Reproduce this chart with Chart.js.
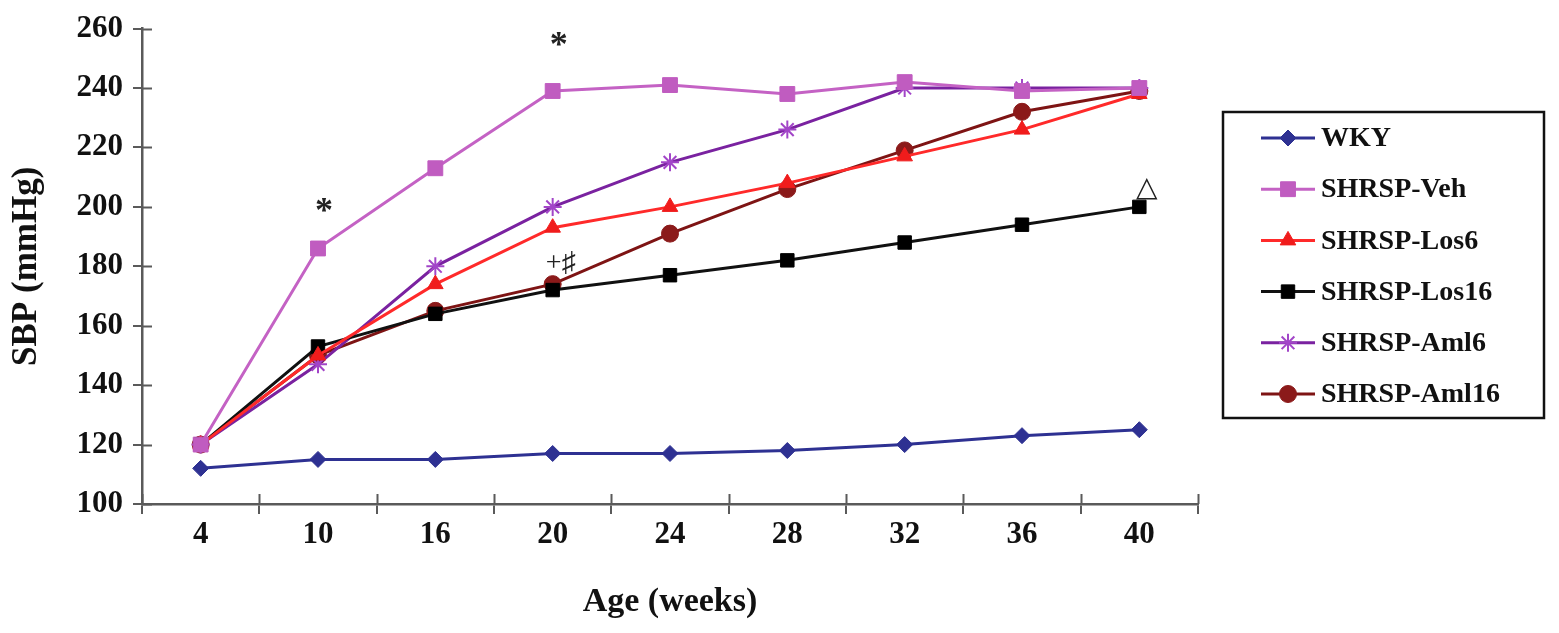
<!DOCTYPE html>
<html>
<head>
<meta charset="utf-8">
<script src="https://cdn.jsdelivr.net/npm/chart.js@4/dist/chart.umd.min.js"></script>
<style>
  html, body { margin: 0; padding: 0; background: #fff; }
  #wrap { width: 1559px; height: 633px; position: relative; }
</style>
</head>
<body>
<div id="wrap"><canvas id="chart"></canvas></div>
<script>
// ─── Data ────────────────────────────────────────────────────────────────────

const ages = ['4', '10', '16', '20', '24', '28', '32', '36', '40'];

const wky     = [112, 115, 115, 117, 117, 118, 120, 123, 125];
const veh     = [120, 186, 213, 239, 241, 238, 242, 239, 240];
const los6    = [120, 150, 174, 193, 200, 208, 217, 226, 238];
const los16   = [120, 153, 164, 172, 177, 182, 188, 194, 200];
const aml6    = [120, 147, 180, 200, 215, 226, 240, 240, 240];
const aml16   = [120, 150, 165, 174, 191, 206, 219, 232, 239];

const yTicks  = [100, 120, 140, 160, 180, 200, 220, 240, 260];

// significance marks: text, category, value
const markText  = ['*', '*', '+\u266F', '\u25B3'];
const markAge   = ['10', '20', '20', '40'];
const markValue = [198, 254, 181, 206];

const FONT = '"Liberation Serif", "Times New Roman", serif';
const AXIS = '#5a5a5a';

// ─── Plugins ─────────────────────────────────────────────────────────────────

// inner half of the crossing tick marks
const innerTicks = {
  id: 'innerTicks',
  afterDraw(chart) {
    const { ctx, scales: { x, y } } = chart;
    ctx.save();
    ctx.strokeStyle = AXIS;
    ctx.lineWidth = 2;
    ctx.beginPath();
    yTicks.forEach(v => {
      const py = Math.round(y.getPixelForValue(v)) + 0.5;
      ctx.moveTo(x.left, py);
      ctx.lineTo(x.left + 10, py);
    });
    const half = (x.getPixelForValue(1) - x.getPixelForValue(0)) / 2;
    for (let i = 0; i <= ages.length; i++) {
      const px = Math.round(x.getPixelForValue(i) - half) + 0.5;
      ctx.moveTo(px, y.bottom);
      ctx.lineTo(px, y.bottom - 10);
    }
    ctx.stroke();
    ctx.restore();
  }
};

const marks = {
  id: 'marks',
  afterDatasetsDraw(chart) {
    const { ctx, scales: { x, y } } = chart;
    ctx.save();
    ctx.fillStyle = '#222';
    ctx.textAlign = 'center';
    ctx.textBaseline = 'middle';
    markText.forEach((t, i) => {
      const px = x.getPixelForValue(ages.indexOf(markAge[i]));
      const py = y.getPixelForValue(markValue[i]);
      ctx.font = (t === '*' ? 'bold 36px ' : '28px ') + FONT;
      ctx.fillText(t, px + (t === '*' ? 6 : 8), py);
    });
    ctx.restore();
  }
};

// boxed legend with line + marker samples
const boxLegend = {
  id: 'boxLegend',
  afterDraw(chart) {
    const { ctx } = chart;
    const left = 1223, top = 112, right = 1544, bottom = 418;
    ctx.save();
    ctx.strokeStyle = '#111';
    ctx.lineWidth = 2.5;
    ctx.strokeRect(left, top, right - left, bottom - top);
    ctx.font = 'bold 28px ' + FONT;
    ctx.textBaseline = 'middle';
    chart.data.datasets.forEach((ds, i) => {
      const cy = 138 + i * 51.2;
      ctx.strokeStyle = ds.borderColor;
      ctx.lineWidth = 3;
      ctx.beginPath();
      ctx.moveTo(1261, cy);
      ctx.lineTo(1315, cy);
      ctx.stroke();
      ctx.fillStyle = ds.pointBackgroundColor;
      ctx.strokeStyle = ds.pointBorderColor;
      ctx.lineWidth = ds.pointBorderWidth || 1;
      Chart.helpers.drawPoint(ctx, {
        pointStyle: ds.pointStyle,
        radius: ds.pointRadius,
        borderWidth: ds.pointBorderWidth || 1,
        rotation: 0
      }, 1288, cy);
      ctx.fillStyle = '#111';
      ctx.fillText(ds.label, 1321, cy + 1);
    });
    ctx.restore();
  }
};

// ─── Chart ───────────────────────────────────────────────────────────────────

function series(label, data, line, marker, style, radius, bw) {
  return {
    label, data,
    borderColor: line,
    backgroundColor: marker,
    pointBackgroundColor: marker,
    pointBorderColor: marker,
    pointBorderWidth: bw || 1,
    pointStyle: style,
    pointRadius: radius,
    pointHoverRadius: radius,
    borderWidth: 3,
    tension: 0,
    fill: false,
  };
}

new Chart(document.getElementById('chart'), {
  type: 'line',
  data: {
    labels: ages,
    datasets: [
      series('WKY',         wky,   '#2e3192', '#2e3192', 'rectRot', 8),
      series('SHRSP-Veh',   veh,   '#c462c4', '#c05cc0', 'rect', 10.5),
      series('SHRSP-Los6',  los6,  '#ff2a2a', '#f01c1c', 'triangle', 9),
      series('SHRSP-Los16', los16, '#111111', '#000000', 'rect', 9.5),
      series('SHRSP-Aml6',  aml6,  '#7a22a0', '#a245c8', 'star', 9, 2),
      series('SHRSP-Aml16', aml16, '#7e1414', '#8b1a1a', 'circle', 8.5),
    ],
  },
  options: {
    responsive: true,
    maintainAspectRatio: false,
    animation: false,
    layout: { padding: { top: 25, right: 361, left: 0, bottom: 0 } },
    plugins: { legend: { display: false }, tooltip: { enabled: false } },
    scales: {
      x: {
        offset: true,
        afterFit(s) { s.height = 129; },
        grid: { offset: true, drawOnChartArea: false, tickLength: 10, color: AXIS, lineWidth: 2 },
        border: { color: AXIS, width: 2.5 },
        ticks: { color: '#111', padding: 2, font: { family: FONT, size: 31, weight: 'bold' } },
        title: {
          display: true, text: 'Age (weeks)', color: '#111',
          padding: { bottom: 10 }, font: { family: FONT, size: 34, weight: 'bold' }
        },
      },
      y: {
        min: 100, max: 260,
        afterFit(s) { s.width = 142; },
        afterBuildTicks(s) { s.ticks = yTicks.map(v => ({ value: v })); },
        grid: { drawOnChartArea: false, tickLength: 9, color: AXIS, lineWidth: 2 },
        border: { color: AXIS, width: 2.5 },
        ticks: { color: '#111', padding: 10, font: { family: FONT, size: 31, weight: 'bold' } },
        title: {
          display: true, text: 'SBP (mmHg)', color: '#111',
          padding: { top: 6 }, font: { family: FONT, size: 35, weight: 'bold' }
        },
      },
    },
  },
  plugins: [innerTicks, marks, boxLegend],
});
</script>
</body>
</html>
